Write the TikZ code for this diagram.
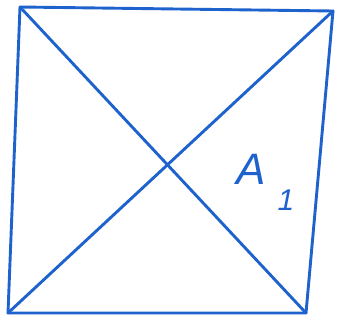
\documentclass[tikz,border=0pt]{standalone}
\usepackage{fontspec}
\setsansfont{Liberation Sans}
\definecolor{pen}{RGB}{30,98,205}
\tikzset{
  stroke/.style={draw=pen, line width=2.9pt, line join=round, line cap=round},
  handlabel/.style={text=pen, inner sep=0pt, font=\sffamily\itshape\fontsize{44}{44}\selectfont}
}
\begin{document}
\begin{tikzpicture}[x=1pt,y=-1pt]
\useasboundingbox (0,0) rectangle (337,323);
\coordinate (tl) at (20,7);
\coordinate (tr) at (333,11);
\coordinate (br) at (306,313);
\coordinate (bl) at (8,313);
\draw[stroke] (tl) -- (tr) -- (br) -- (bl) -- cycle;
\draw[stroke] (tl) -- (br);
\draw[stroke] (bl) -- (tr);
\node[handlabel, anchor=base west] (lbl) at (236,185) {A\kern12pt\raisebox{-25pt}{\fontsize{30}{30}\selectfont 1}};
\end{tikzpicture}
\end{document}
